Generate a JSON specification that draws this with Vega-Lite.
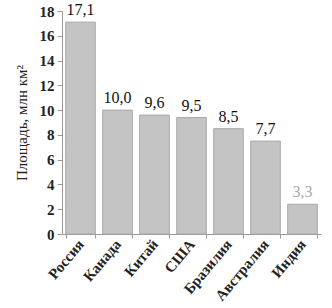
{
  "$schema": "https://vega.github.io/schema/vega-lite/v6.json",
  "width": 259,
  "height": 223,
  "autosize": {"type": "none"},
  "padding": {"left": 62, "top": 11, "right": 11, "bottom": 74},
  "background": "white",
  "config": {"view": {"stroke": null}, "font": "Liberation Serif"},
  "data": {"values": [
    {"country": "Россия", "area": 17.1, "label": "17,1", "tone": "a"},
    {"country": "Канада", "area": 10.0, "label": "10,0", "tone": "a"},
    {"country": "Китай", "area": 9.6, "label": "9,6", "tone": "a"},
    {"country": "США", "area": 9.4, "label": "9,5", "tone": "a"},
    {"country": "Бразилия", "area": 8.5, "label": "8,5", "tone": "a"},
    {"country": "Австралия", "area": 7.5, "label": "7,7", "tone": "a"},
    {"country": "Индия", "area": 2.4, "label": "3,3", "tone": "b"}
  ]},
  "encoding": {
    "x": {"field": "country", "type": "nominal", "sort": null,
      "scale": {"paddingInner": 0.2, "paddingOuter": 0.1},
      "axis": {"title": null, "labelAngle": -50, "labelFont": "Liberation Serif", "labelFontSize": 15, "labelFontWeight": "bold", "labelColor": "#222", "labelPadding": 3, "tickBand": "extent", "tickSize": 4, "tickColor": "#999", "domainColor": "#999"}},
    "y": {"field": "area", "type": "quantitative",
      "scale": {"domain": [0, 18], "nice": false},
      "axis": {"title": "Площадь, млн км²", "titleFont": "Liberation Serif", "titleFontSize": 15, "titleFontWeight": "normal", "titleColor": "#222", "titlePadding": 10, "values": [0,2,4,6,8,10,12,14,16,18], "labelFont": "Liberation Serif", "labelFontSize": 15, "labelFontWeight": "bold", "labelColor": "#222", "labelPadding": 3, "tickSize": 5, "tickColor": "#999", "domainColor": "#999", "grid": false}}
  },
  "layer": [
    {"mark": {"type": "bar", "fill": "#c4c4c4", "stroke": "#a9a9a9", "strokeWidth": 1}},
    {"mark": {"type": "text", "baseline": "bottom", "dy": -4, "font": "Liberation Serif", "fontSize": 16},
      "encoding": {"text": {"field": "label"},
        "color": {"field": "tone", "type": "nominal", "scale": {"domain": ["a", "b"], "range": ["#111", "#aaa"]}, "legend": null}}}
  ]
}
